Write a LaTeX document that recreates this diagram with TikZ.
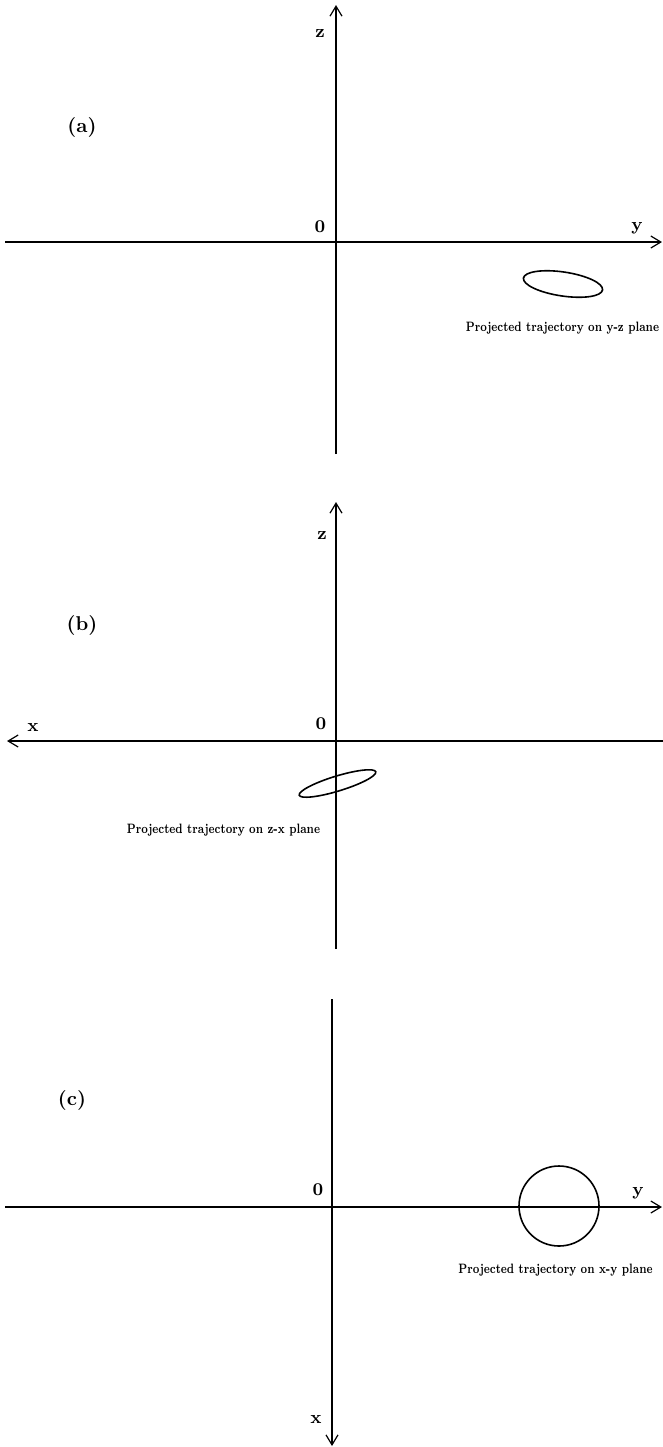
\documentclass[tikz,border=0pt]{standalone}
\usepackage{graphicx}
\usetikzlibrary{arrows.meta}
\begin{document}
\begin{tikzpicture}[x=0.5pt,y=-0.5pt,
  haxis/.style={line width=0.9pt},
  vaxis/.style={line width=0.7pt},
  tipend/.style={-{Straight Barb[length=5pt,width=6pt,line width=0.6pt]}},
  tipstart/.style={{Straight Barb[length=5pt,width=6pt,line width=0.6pt]}-},
  axlab/.style={inner sep=0pt,font=\fontsize{9}{10}\selectfont\bfseries},
  panlab/.style={inner sep=0pt,font=\fontsize{10}{12}\selectfont\bfseries},
  trajlab/.style={inner sep=0pt,font=\fontsize{6.8}{8}\selectfont\bfseries},
  traj/.style={line width=0.8pt}]
\useasboundingbox (0,0) rectangle (663,1447);
% ---------- panel (a)
\coordinate (aT) at (336,5);
\coordinate (aB) at (336,454);
\coordinate (aL) at (5,242);
\coordinate (aR) at (662,242);
\draw[vaxis,tipend] (aB) -- (aT);
\draw[haxis,tipend] (aL) -- (aR);
\node[axlab] (az) at (320,33) {z};
\node[axlab] (a0) at (320,227) {0};
\node[axlab] (ay) at (637,228) {y};
\node[panlab] (alab) at (82,127) {(a)};
\draw[traj,rotate around={-8.5:(563,284)}] (563,284) ellipse [x radius=40,y radius=12];
\node[trajlab] (atr) at (562.5,328) {\scalebox{0.75}[1]{Projected trajectory on y-z plane}};
% ---------- panel (b)
\coordinate (bT) at (336,502);
\coordinate (bB) at (336,949);
\coordinate (bL) at (7,741);
\coordinate (bR) at (663,741);
\draw[vaxis,tipend] (bB) -- (bT);
\draw[haxis,tipstart] (bL) -- (bR);
\node[axlab] (bz) at (322,535) {z};
\node[axlab] (b0) at (321,724) {0};
\node[axlab] (bx) at (33,727) {x};
\node[panlab] (blab) at (82,625) {(b)};
\draw[traj,rotate around={17:(337.5,783.5)}] (337.5,783.5) ellipse [x radius=40,y radius=7.5];
\node[trajlab] (btr) at (223.5,830) {\scalebox{0.75}[1]{Projected trajectory on z-x plane}};
% ---------- panel (c)
\coordinate (cT) at (332,999);
\coordinate (cB) at (332,1446);
\coordinate (cL) at (5,1207);
\coordinate (cR) at (662,1207);
\draw[vaxis,tipend] (cT) -- (cB);
\draw[haxis,tipend] (cL) -- (cR);
\node[axlab] (c0) at (318,1190) {0};
\node[axlab] (cy) at (638,1193) {y};
\node[axlab] (cx) at (316,1419) {x};
\node[panlab] (clab) at (72,1100) {(c)};
\draw[traj] (559,1206) circle [radius=40];
\node[trajlab] (ctr) at (555.5,1270) {\scalebox{0.75}[1]{Projected trajectory on x-y plane}};
\end{tikzpicture}
\end{document}
